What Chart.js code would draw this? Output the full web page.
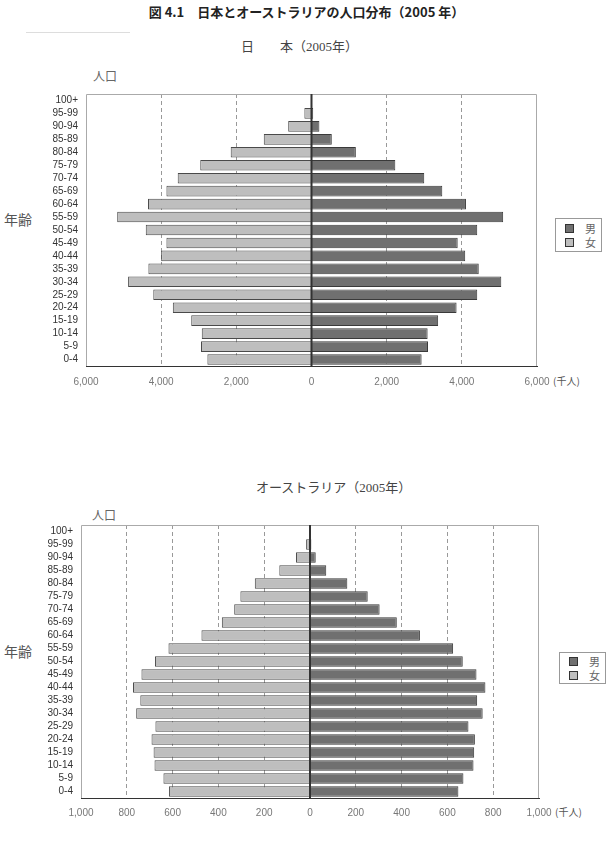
<!DOCTYPE html>
<html>
<head>
<meta charset="utf-8">
<script src="https://cdn.jsdelivr.net/npm/chart.js@4.4.0/dist/chart.umd.min.js"></script>
<style>
body{margin:0;background:#fff;width:613px;height:841px;position:relative;overflow:hidden;font-family:"Noto Sans CJK JP",sans-serif;}
.t{position:absolute;white-space:nowrap;line-height:1;}
canvas{position:absolute;left:0;}
.leg{position:absolute;border:1px solid #999;background:#fff;}
.leg div{position:relative;height:14px;font-size:11px;line-height:14px;color:#666;}
.leg .sq{position:absolute;left:9px;top:3px;width:7px;height:7px;border:1px solid #333;}
.leg .lb{position:absolute;left:29px;top:0;}
</style>
</head>
<body>
<div class="t" style="left:0;width:613px;text-align:center;top:5px;font-size:13px;font-weight:bold;color:#222;">図 4.1　日本とオーストラリアの人口分布（2005 年）</div>
<div style="position:absolute;left:26px;top:32px;width:104px;height:1px;background:#ddd;"></div>

<div class="t" style="left:241px;top:40px;font-size:13px;color:#444;font-family:'Liberation Serif','Noto Sans CJK JP';">日　　本（2005年）</div>
<div class="t" style="left:93px;top:70px;font-size:12px;color:#666;">人口</div>
<div class="t" style="left:4px;top:212px;font-size:14px;color:#555;">年齢</div>
<div class="t" style="left:553px;top:376px;font-size:10px;color:#555;">(千人)</div>
<div class="leg" style="left:555px;top:218px;width:45px;height:32px;">
  <div style="margin-top:2px"><span class="sq" style="background:#707070"></span><span class="lb">男</span></div>
  <div><span class="sq" style="background:#bebebe"></span><span class="lb">女</span></div>
</div>
<canvas id="jp" width="613" height="320" style="top:80px"></canvas>

<div class="t" style="left:256px;top:481px;font-size:13px;color:#444;font-family:'Liberation Serif','Noto Sans CJK JP';">オーストラリア（2005年）</div>
<div class="t" style="left:92px;top:509px;font-size:12px;color:#666;">人口</div>
<div class="t" style="left:4px;top:644px;font-size:14px;color:#555;">年齢</div>
<div class="t" style="left:555px;top:807px;font-size:10px;color:#555;">(千人)</div>
<div class="leg" style="left:559px;top:652px;width:45px;height:30px;">
  <div style="margin-top:1px"><span class="sq" style="background:#707070"></span><span class="lb">男</span></div>
  <div><span class="sq" style="background:#bebebe"></span><span class="lb">女</span></div>
</div>
<canvas id="au" width="613" height="340" style="top:500px"></canvas>

<script>
// 年齢階級（上から下）
var ageLabels = ['100+','95-99','90-94','85-89','80-84','75-79','70-74','65-69','60-64','55-59','50-54','45-49','40-44','35-39','30-34','25-29','20-24','15-19','10-14','5-9','0-4'];

// 日本 2005年（千人）
var jpFemale = [20, 190, 620, 1270, 2150, 2960, 3560, 3860, 4350, 5170, 4410, 3860, 4000, 4340, 4880, 4210, 3690, 3200, 2920, 2940, 2770];
var jpMale   = [5, 45, 210, 540, 1180, 2230, 3000, 3480, 4110, 5100, 4410, 3890, 4090, 4450, 5050, 4410, 3860, 3370, 3090, 3100, 2930];

// オーストラリア 2005年（千人）
var auFemale = [1, 17, 61, 134, 241, 304, 331, 385, 474, 618, 677, 736, 773, 741, 759, 675, 692, 683, 679, 640, 616];
var auMale   = [0.5, 6, 25, 71, 163, 252, 304, 379, 480, 625, 667, 727, 766, 730, 754, 692, 720, 717, 714, 670, 648];

// 枠線と0の線
var framePlugin = {
  id: 'frame',
  afterDatasetsDraw: function(chart) {
    var ctx = chart.ctx, a = chart.chartArea, x = chart.scales.x;
    ctx.save();
    ctx.strokeStyle = '#aaa';
    ctx.lineWidth = 1;
    ctx.beginPath();
    ctx.moveTo(a.left + 0.5, a.bottom);
    ctx.lineTo(a.left + 0.5, a.top + 0.5);
    ctx.lineTo(a.right - 0.5, a.top + 0.5);
    ctx.lineTo(a.right - 0.5, a.bottom);
    ctx.stroke();
    var z = x.getPixelForValue(0);
    ctx.strokeStyle = '#333';
    ctx.lineWidth = 2;
    ctx.beginPath();
    ctx.moveTo(z, a.top);
    ctx.lineTo(z, a.bottom);
    ctx.stroke();
    ctx.restore();
  }
};

function pyramid(id, female, male, max, step, o) {
  return new Chart(document.getElementById(id), {
    type: 'bar',
    data: {
      labels: ageLabels,
      datasets: [
        { label: '男', data: male, backgroundColor: '#707070', borderColor: '#3a3a3a', borderWidth: 1, stack: 's' },
        { label: '女', data: female.map(function(v){ return -v; }), backgroundColor: '#bebebe', borderColor: '#4a4a4a', borderWidth: 1, stack: 's' }
      ]
    },
    options: {
      indexAxis: 'y',
      responsive: false,
      animation: false,
      layout: { padding: { top: o.top, right: o.right, left: 0, bottom: 0 } },
      plugins: { legend: { display: false }, tooltip: { enabled: false } },
      datasets: { bar: { barPercentage: 0.82, categoryPercentage: 1 } },
      scales: {
        x: {
          stacked: true,
          min: -max,
          max: max,
          ticks: {
            stepSize: step,
            padding: o.xpad,
            color: '#777',
            font: { family: 'Liberation Sans', size: 10 },
            callback: function(v){ return Math.abs(v).toLocaleString('en-US'); }
          },
          grid: {
            drawTicks: false,
            lineWidth: 1,
            color: function(c){
              var v = c.tick ? c.tick.value : 0;
              return (v === 0 || Math.abs(v) === max) ? 'rgba(0,0,0,0)' : '#999';
            }
          },
          border: { display: true, color: '#333', width: 1, dash: [4, 3] },
          afterFit: function(s){ s.height = o.xh; }
        },
        y: {
          stacked: true,
          grid: { display: false, drawTicks: false },
          border: { display: false },
          ticks: { autoSkip: false, padding: 8, color: '#333', font: { family: 'Liberation Sans', size: 10 } },
          afterFit: function(s){ s.width = o.yw; }
        }
      }
    },
    plugins: [framePlugin]
  });
}

pyramid('jp', jpFemale, jpMale, 6000, 2000, { top: 9, right: 76, xh: 34, yw: 86, xpad: 10 });
pyramid('au', auFemale, auMale, 1000, 200, { top: 25, right: 74, xh: 42, yw: 81, xpad: 9 });
</script>
</body>
</html>
